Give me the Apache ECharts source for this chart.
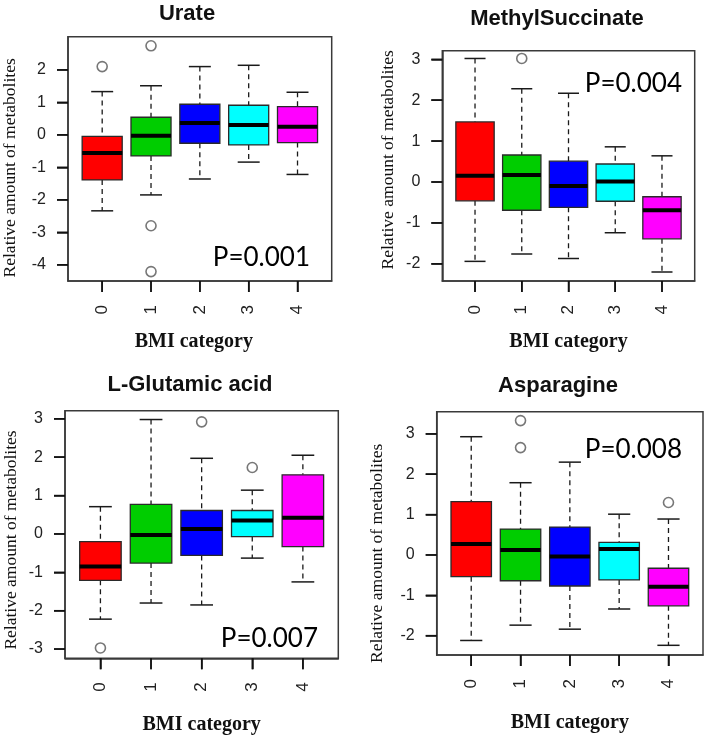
<!DOCTYPE html>
<html>
<head>
<meta charset="utf-8">
<script src="https://cdn.jsdelivr.net/npm/echarts@6/dist/echarts.min.js"></script>
<style>html,body{margin:0;padding:0;background:#fff}#c{width:709px;height:741px}</style>
</head>
<body>
<div id="c"></div>
<script>
// ---------- data ----------
const categories = ['0', '1', '2', '3', '4'];
const catPos = [0, 1, 2, 3, 4];
const boxColors = ['#FF0000', '#00CD00', '#0000FF', '#00FFFF', '#FF00FF'];

const urateBox = [
  [-2.34, -1.39, -0.56, -0.05, 1.33],
  [-1.85, -0.65, -0.03, 0.54, 1.51],
  [-1.36, -0.26, 0.36, 0.94, 2.10],
  [-0.84, -0.31, 0.30, 0.91, 2.14],
  [-1.22, -0.24, 0.25, 0.87, 1.31]
];
const urateOutlierCat = [0, 1, 1, 1];
const urateOutlierVal = [2.10, 2.74, -2.80, -4.21];
const urateTicks = [-4, -3, -2, -1, 0, 1, 2];

const methylBox = [
  [-1.94, -0.46, 0.155, 1.47, 3.02],
  [-1.76, -0.69, 0.17, 0.66, 2.28],
  [-1.87, -0.62, -0.10, 0.51, 2.17],
  [-1.24, -0.47, 0.01, 0.44, 0.86],
  [-2.20, -1.39, -0.69, -0.36, 0.64]
];
const methylOutlierCat = [1];
const methylOutlierVal = [3.02];
const methylTicks = [-2, -1, 0, 1, 2, 3];

const glutamicBox = [
  [-2.22, -1.21, -0.85, -0.20, 0.71],
  [-1.80, -0.76, -0.03, 0.77, 2.98],
  [-1.85, -0.56, 0.13, 0.61, 1.97],
  [-0.63, -0.07, 0.35, 0.61, 1.14],
  [-1.25, -0.33, 0.42, 1.54, 2.05]
];
const glutamicOutlierCat = [0, 2, 3];
const glutamicOutlierVal = [-2.97, 2.92, 1.73];
const glutamicTicks = [-3, -2, -1, 0, 1, 2, 3];

const asparagineBox = [
  [-2.12, -0.54, 0.27, 1.32, 2.93],
  [-1.74, -0.64, 0.12, 0.64, 1.79],
  [-1.84, -0.77, -0.04, 0.69, 2.30],
  [-1.34, -0.62, 0.15, 0.31, 1.01],
  [-2.24, -1.26, -0.79, -0.33, 0.89]
];
const asparagineOutlierCat = [1, 1, 4];
const asparagineOutlierVal = [3.33, 2.66, 1.30];
const asparagineTicks = [-2, -1, 0, 1, 2, 3];

const panelTitles = ['Urate', 'MethylSuccinate', 'L-Glutamic acid', 'Asparagine'];
const pValues = ['P=0.001', 'P=0.004', 'P=0.007', 'P=0.008'];
const xAxisTitle = 'BMI category';
const yAxisTitle = 'Relative amount of metabolites';

const X_MIN = -0.7, X_MAX = 4.7, TICK_LEN = 11;
const panels = [
  { box: urateBox, oc: urateOutlierCat, ov: urateOutlierVal, ticks: urateTicks,
    grid: { left: 64, top: 36.7, width: 267.7, height: 244.3 }, ymin: -4.5, ymax: 3.02,
    yGap: 49, yPad: [0, 18, 0, 0], xGap: 51, xPad: [0, 12, 0, 0], title: [187, 13.5], p: [310, 258] },
  { box: methylBox, oc: methylOutlierCat, ov: methylOutlierVal, ticks: methylTicks,
    grid: { left: 442.3, top: 50.7, width: 252.4, height: 230.3 }, ymin: -2.42, ymax: 3.21,
    yGap: 45, yPad: [0, 0, 0, 12], xGap: 51, xPad: [0, 0, 0, 0], title: [557, 18.5], p: [682, 84] },
  { box: glutamicBox, oc: glutamicOutlierCat, ov: glutamicOutlierVal, ticks: glutamicTicks,
    grid: { left: 65, top: 410.7, width: 273.3, height: 247.6 }, ymin: -3.24, ymax: 3.21,
    yGap: 45, yPad: [0, 11, 0, 0], xGap: 57, xPad: [0, 0, 0, 0], title: [190, 385], p: [318, 639] },
  { box: asparagineBox, oc: asparagineOutlierCat, ov: asparagineOutlierVal, ticks: asparagineTicks,
    grid: { left: 436.7, top: 411.7, width: 266.3, height: 243.3 }, ymin: -2.48, ymax: 3.55,
    yGap: 50, yPad: [0, 40, 0, 0], xGap: 58, xPad: [0, 0, 0, 0], title: [558, 386], p: [682, 450] }
];

function renderBox(params, api) {
  const x = api.value(0);
  const lo = api.value(1), q1 = api.value(2), med = api.value(3), q3 = api.value(4), hi = api.value(5);
  const halfBox = api.size([0.82, 0], [x, 0])[0] / 2;
  const halfCap = api.size([0.45, 0], [x, 0])[0] / 2;
  const pLo = api.coord([x, lo]), pQ1 = api.coord([x, q1]), pMed = api.coord([x, med]);
  const pQ3 = api.coord([x, q3]), pHi = api.coord([x, hi]);
  const cx = pLo[0];
  const dark = '#1a1a1a';
  const color = boxColors[params.dataIndex];
  return {
    type: 'group',
    children: [
      { type: 'line', shape: { x1: cx, y1: pHi[1], x2: cx, y2: pQ3[1] },
        style: { stroke: dark, lineWidth: 1.3, lineDash: [5, 4] } },
      { type: 'line', shape: { x1: cx, y1: pQ1[1], x2: cx, y2: pLo[1] },
        style: { stroke: dark, lineWidth: 1.3, lineDash: [5, 4] } },
      { type: 'line', shape: { x1: cx - halfCap, y1: pHi[1], x2: cx + halfCap, y2: pHi[1] },
        style: { stroke: dark, lineWidth: 1.5 } },
      { type: 'line', shape: { x1: cx - halfCap, y1: pLo[1], x2: cx + halfCap, y2: pLo[1] },
        style: { stroke: dark, lineWidth: 1.5 } },
      { type: 'rect', shape: { x: cx - halfBox, y: pQ3[1], width: 2 * halfBox, height: pQ1[1] - pQ3[1] },
        style: { fill: color, stroke: '#2a2a2a', lineWidth: 1.3 } },
      { type: 'line', shape: { x1: cx - halfBox, y1: pMed[1], x2: cx + halfBox, y2: pMed[1] },
        style: { stroke: '#000', lineWidth: 4 } }
    ]
  };
}

// tick marks drawn as one group per axis, positioned through the axes' scales
function makeTickRenderer(pn) {
  return function (params, api) {
    if (params.dataIndex !== 0) return null;
    const children = [];
    catPos.forEach(c => {
      const p = api.coord([c, pn.ymin]);
      children.push({ type: 'line', shape: { x1: p[0], y1: p[1], x2: p[0], y2: p[1] + TICK_LEN },
        style: { stroke: '#111', lineWidth: 1.5 } });
    });
    pn.ticks.forEach(t => {
      const p = api.coord([X_MIN, t]);
      children.push({ type: 'line', shape: { x1: p[0] - TICK_LEN, y1: p[1], x2: p[0], y2: p[1] },
        style: { stroke: '#111', lineWidth: 1.5 } });
    });
    return { type: 'group', children: children };
  };
}

const grids = [], xAxes = [], yAxes = [], series = [], graphics = [];
panels.forEach((pn, k) => {
  grids.push(Object.assign({ show: true, borderColor: '#3a3a3a', borderWidth: 1.5 }, pn.grid));
  xAxes.push({
    type: 'value', gridIndex: k, min: X_MIN, max: X_MAX,
    splitLine: { show: false },
    axisLine: { show: true, onZero: false, lineStyle: { color: '#3a3a3a', width: 1.5 } },
    axisTick: { show: true, inside: false, length: TICK_LEN, customValues: catPos, lineStyle: { color: '#111', width: 1.5 } },
    axisLabel: { customValues: catPos, rotate: 90, margin: 24, fontSize: 17, fontFamily: 'Liberation Sans', color: '#222',
      formatter: v => categories[Math.round(v)] },
    name: xAxisTitle, nameLocation: 'middle', nameGap: pn.xGap,
    nameTextStyle: { fontFamily: 'Liberation Serif', fontWeight: 'bold', fontSize: 20, color: '#111', padding: pn.xPad }
  });
  yAxes.push({
    type: 'value', gridIndex: k, min: pn.ymin, max: pn.ymax,
    splitLine: { show: false },
    axisLine: { show: true, onZero: false, lineStyle: { color: '#3a3a3a', width: 1.5 } },
    axisTick: { show: true, inside: false, length: TICK_LEN, customValues: pn.ticks, lineStyle: { color: '#111', width: 1.5 } },
    axisLabel: { customValues: pn.ticks, margin: 22, fontSize: 16, fontFamily: 'Liberation Sans', color: '#222' },
    name: yAxisTitle, nameLocation: 'middle', nameGap: pn.yGap,
    nameTextStyle: { fontFamily: 'Liberation Serif', fontSize: 17.5, color: '#111', padding: pn.yPad }
  });
  series.push({
    type: 'custom', xAxisIndex: k, yAxisIndex: k, clip: false, z: 10, silent: true,
    renderItem: makeTickRenderer(pn), encode: { x: 0, y: 1 },
    data: [[0, 0]]
  });
  series.push({
    type: 'custom', xAxisIndex: k, yAxisIndex: k,
    renderItem: renderBox,
    encode: { x: 0, y: [1, 2, 3, 4, 5] },
    data: pn.box.map((b, i) => [catPos[i]].concat(b))
  });
  series.push({
    type: 'scatter', xAxisIndex: k, yAxisIndex: k,
    symbol: 'circle', symbolSize: 10,
    itemStyle: { color: 'rgba(0,0,0,0)', borderColor: '#555', borderWidth: 1.6 },
    data: pn.oc.map((c, i) => [c, pn.ov[i]])
  });
  graphics.push({
    type: 'text', x: pn.title[0], y: pn.title[1],
    style: { text: panelTitles[k], font: 'bold 22px "Liberation Sans"', align: 'center', verticalAlign: 'middle', fill: '#111' }
  });
  graphics.push({
    type: 'text', x: pn.p[0], y: pn.p[1], z: 100,
    style: { text: pValues[k], font: '26px Lato', align: 'right', verticalAlign: 'middle', fill: '#000' }
  });
});

const chart = echarts.init(document.getElementById('c'), null, { renderer: 'canvas' });
chart.setOption({
  animation: false,
  backgroundColor: '#fff',
  grid: grids,
  xAxis: xAxes,
  yAxis: yAxes,
  series: series,
  graphic: graphics
});
</script>
</body>
</html>
